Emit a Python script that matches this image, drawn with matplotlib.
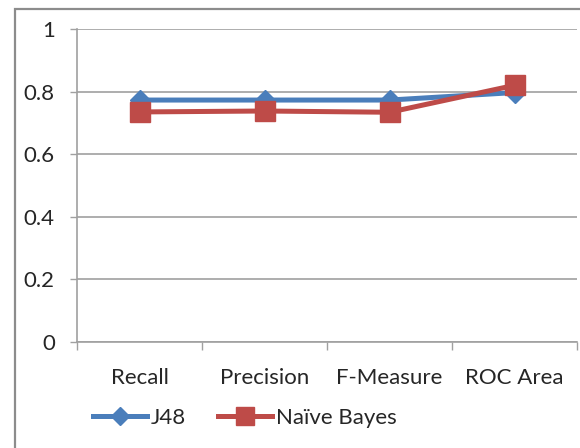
import numpy as np
import matplotlib
matplotlib.use("Agg")
from matplotlib import pyplot
from matplotlib.patches import Rectangle
plt = pyplot

# Scores per metric for the two classifiers
categories = ["Recall", "Precision", "F-Measure", "ROC Area"]
j48 = [0.773, 0.773, 0.773, 0.797]
naive_bayes = [0.735, 0.738, 0.734, 0.82]
y_ticks = [0, 0.2, 0.4, 0.6, 0.8, 1]
y_tick_labels = ["0", "0.2", "0.4", "0.6", "0.8", "1"]

plt.rcParams['font.family'] = ['Lato', 'DejaVu Sans']
grey = '#a0a0a0'
txt = '#262626'

fig = plt.figure(figsize=(5.8, 4.48), dpi=100)
# chart area frame
fig.patches.append(Rectangle((15/580, -0.1), 1.0, 1 - 9/448 + 0.1, transform=fig.transFigure,
                             fill=False, edgecolor='#8c8c8c', linewidth=1.6))
ax = fig.add_axes([77/580, 1 - 342/448, 500/580, 313/448])

x = np.arange(len(categories))
l1, = ax.plot(x, j48, color='#4a7ebb', linewidth=3.6, marker='D', markersize=10,
              markeredgecolor='#4a7ebb', label='J48', zorder=3)
l2, = ax.plot(x, naive_bayes, color='#be4b48', linewidth=3.6, marker='s', markersize=14.5,
              markeredgecolor='#be4b48', label='Naïve Bayes', zorder=4)

ax.set_xlim(-0.5, len(categories) - 0.5)
ax.set_ylim(0, 1)
ax.set_yticks(y_ticks)
ax.set_yticklabels(y_tick_labels)
ax.yaxis.grid(True, color=grey, linewidth=1.2)
ax.set_axisbelow(True)

ax.set_xticks(x)
ax.set_xticklabels(categories)
ax.set_xticks(np.arange(len(categories) + 1) - 0.5, minor=True)
ax.tick_params(axis='x', which='major', length=0, pad=19, labelsize=16, labelcolor=txt)
ax.tick_params(axis='x', which='minor', length=6, width=1, color=grey)
ax.tick_params(axis='y', length=5, width=1, color=grey, labelsize=16, labelcolor=txt, pad=11)

for side in ['top', 'right']:
    ax.spines[side].set_visible(False)
for side in ['left', 'bottom']:
    ax.spines[side].set_color(grey)
    ax.spines[side].set_linewidth(1.2)

leg = fig.legend(handles=[l1, l2], loc='center left', bbox_to_anchor=(93/580, 1 - 418/448),
                 ncol=2, frameon=False, fontsize=16, handlelength=2.45, handletextpad=0.14,
                 columnspacing=1.45, borderaxespad=0, borderpad=0, labelcolor=txt)
# slightly smaller markers in the legend keys
for h, ms in zip(leg.legend_handles, [9, 12.5]):
    h.set_markersize(ms)

fig.savefig("out.png", dpi=100)
